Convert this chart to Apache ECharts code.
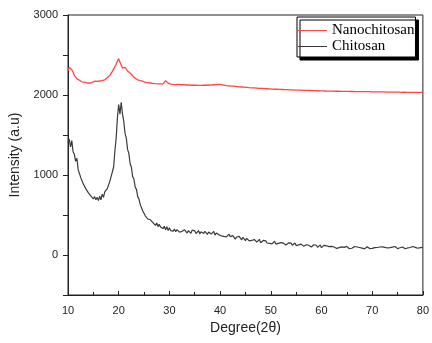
<!DOCTYPE html>
<html>
<head>
<meta charset="utf-8">
<script src="https://cdn.jsdelivr.net/npm/echarts@6/dist/echarts.min.js"></script>
<style>html,body{margin:0;padding:0;background:#fff}#c{width:432px;height:343px}</style>
</head>
<body>
<div id="c"></div>
<script>
// 2θ sampling: start 10°, step 0.25°, up to 80°
const xStart = 10;
const xStep = 0.25;
const seriesNames = ['Nanochitosan', 'Chitosan'];
const xTicks = [10, 20, 30, 40, 50, 60, 70, 80];
const yTicks = [0, 1000, 2000, 3000];

const nanochitosan = [
2300,2345,2355,2315, 2285,2245,2225,2205, 2205,2185,2190,2165, 2190,2160,2178,2150,
2175,2150,2170,2155, 2165,2172,2150,2170, 2155,2175,2160,2180, 2170,2190,2190,2215,
2215,2245,2255,2295, 2315,2355,2385,2425, 2455,2410,2375,2335, 2340,2345,2335,2300,
2305,2275,2265,2240, 2235,2210,2210,2190, 2195,2180,2180,2172, 2175,2158,2175,2155,
2170,2150,2165,2145, 2160,2142,2158,2140, 2155,2138,2155,2140, 2160,2180,2162,2148,
2152,2135,2155,2132, 2150,2130,2148,2132, 2146,2128,2145,2130, 2144,2125,2142,2126,
2140,2122,2143,2124, 2140,2122,2138,2120, 2138,2120,2140,2122, 2138,2122,2140,2125,
2142,2124,2144,2128, 2146,2130,2150,2132, 2148,2130,2145,2124, 2138,2118,2135,2115,
2130,2112,2130,2110, 2125,2106,2124,2102, 2120,2100,2118,2098, 2114,2095,2112,2092,
2110,2090,2108,2088, 2106,2086,2104,2084, 2102,2082,2100,2080, 2098,2078,2096,2076,
2094,2074,2092,2072, 2091,2072,2090,2070, 2088,2069,2087,2067, 2085,2066,2084,2064,
2082,2064,2082,2062, 2080,2061,2079,2060, 2078,2059,2077,2058, 2076,2057,2075,2056,
2074,2055,2073,2054, 2072,2053,2071,2052, 2070,2051,2069,2050, 2068,2049,2067,2048,
2067,2048,2066,2047, 2066,2047,2065,2046, 2065,2046,2064,2045, 2064,2045,2063,2044,
2063,2044,2062,2043, 2062,2043,2061,2042, 2061,2042,2060,2041, 2060,2041,2059,2040,
2059,2040,2058,2039, 2058,2039,2057,2038, 2057,2038,2056,2037, 2056,2037,2055,2036,
2056,2036,2054,2035, 2055,2036,2054,2034, 2054,2035,2053,2034, 2054,2034,2052,2033,
2053,2034,2052,2032, 2052,2033,2051,2032, 2048
];

const chitosan = [
1400,1450,1350,1430, 1290,1260,1170,1210, 1070,1060,970,975, 890,900,830,845,
780,790,740,760, 700,730,690,720, 680,735,690,760, 720,790,770,830,
840,920,940,1040, 1100,1300,1460,1720, 1880,1760,1910,1760, 1670,1520,1460,1320,
1270,1140,1100,980, 950,850,820,730, 700,630,640,550, 560,490,510,450,
470,440,440,405, 420,370,400,355, 385,350,370,330, 360,315,355,305,
340,305,322,298, 325,290,318,332, 285,310,296,278, 315,300,274,305,
288,270,312,296, 302,268,280,306, 262,290,298,270, 296,282,258,288,
290,262,280,296, 248,275,282,252, 270,240,262,232, 252,226,244,260,
230,208,242,218, 198,225,210,232, 212,190,222,198, 180,208,196,176,
200,182,168,194, 188,160,180,196, 152,174,182,160, 176,150,166,145,
168,140,158,172, 136,158,146,162, 155,130,148,160, 125,146,152,130,
148,122,138,150, 118,140,126,112, 136,120,108,132, 128,104,122,136,
100,120,128,108, 122,96,114,126, 92,110,120,98, 115,90,104,88,
108,84,100,114, 82,104,92,110, 102,86,96,80, 108,90,78,100,
84,98,106,88, 100,78,94,104, 86,96,76,100, 104,88,80,96,
82,98,92,106, 94,78,100,88, 102,84,96,76, 88,104,92,80,
98,86,106,82, 80,96,90,104, 100,84,78,96, 88,104,94,82,
106,86,96,90, 84,100,92,106, 96
];

function pairs(vals) {
  return vals.map((v, i) => [xStart + i * xStep, v]);
}

const chart = echarts.init(document.getElementById('c'));
const labelFont = { fontFamily: 'Liberation Sans, Arial, sans-serif', fontSize: 11, color: '#222' };
chart.setOption({
  animation: false,
  backgroundColor: '#fff',
  grid: { left: 68, right: 5, top: 15, bottom: 48, show: true, borderColor: '#222', borderWidth: 1, backgroundColor: 'transparent' },
  legend: {
    orient: 'vertical', left: 297, top: 17,
    data: seriesNames,
    icon: 'rect', itemWidth: 29, itemHeight: 1, itemGap: 1,
    padding: [6, 1, 3, 1],
    backgroundColor: '#fff', borderColor: '#000', borderWidth: 1,
    shadowColor: '#000', shadowBlur: 0, shadowOffsetX: 3, shadowOffsetY: 3,
    textStyle: { fontFamily: 'Liberation Serif, Times New Roman, serif', fontSize: 15, color: '#000' }
  },
  xAxis: {
    type: 'value', min: 10, max: 80, interval: 10,
    name: 'Degree(2θ)', nameLocation: 'middle', nameGap: 23,
    nameTextStyle: { fontFamily: 'Liberation Sans, Arial, sans-serif', fontSize: 14, color: '#222' },
    axisLine: { show: true, onZero: false, lineStyle: { color: '#222', width: 1 } },
    axisTick: { show: true, inside: true, length: 4, lineStyle: { color: '#222' } },
    minorTick: { show: true, splitNumber: 2, length: 3, lineStyle: { color: '#222' } },
    splitLine: { show: false },
    axisLabel: Object.assign({ margin: 10, formatter: v => xTicks.includes(v) ? String(v) : '' }, labelFont)
  },
  yAxis: {
    type: 'value', min: -500, max: 3000, interval: 500,
    name: 'Intensity (a.u)', nameLocation: 'middle', nameGap: 46, nameRotate: 90,
    nameTextStyle: { fontFamily: 'Liberation Sans, Arial, sans-serif', fontSize: 14, color: '#222' },
    axisLine: { show: true, onZero: false, lineStyle: { color: '#222', width: 1 } },
    axisTick: { show: true, inside: false, length: 5, lineStyle: { color: '#222' } },
    splitLine: { show: false },
    axisLabel: Object.assign({ margin: 10, formatter: v => yTicks.includes(v) ? String(v) : '' }, labelFont)
  },
  series: [
    { name: seriesNames[0], type: 'line', data: pairs(nanochitosan), showSymbol: false, symbol: 'none',
      color: '#ff4545', lineStyle: { color: '#ff4545', width: 1.3 } },
    { name: seriesNames[1], type: 'line', data: pairs(chitosan), showSymbol: false, symbol: 'none',
      color: '#3a3a3a', lineStyle: { color: '#3a3a3a', width: 1.2 } }
  ]
});
</script>
</body>
</html>
